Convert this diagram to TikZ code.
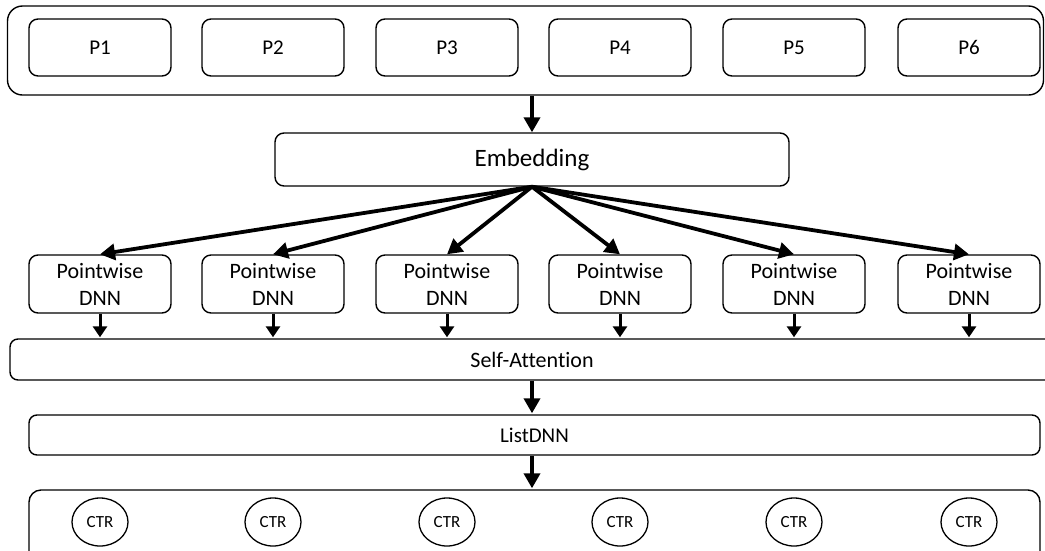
\documentclass[tikz,border=0pt]{standalone}
\usepackage{fontspec}
\setmainfont[Ligatures=NoCommon]{Carlito}
\usetikzlibrary{arrows.meta,shapes.geometric}
\begin{document}
\begin{tikzpicture}[x=1pt,y=-1pt,
  box/.style={draw=black,line width=1.4pt,rounded corners=9pt,inner sep=0pt,anchor=center},
  pbox/.style={box,minimum width=142pt,minimum height=57pt,font=\fontsize{21}{25}\selectfont},
  pwbox/.style={box,minimum width=142pt,minimum height=58pt,align=center,font=\fontsize{22}{27}\selectfont},
  ctr/.style={draw=black,line width=1.3pt,ellipse,minimum width=56pt,minimum height=48pt,inner sep=0pt,font=\fontsize{17}{20}\selectfont},
  bigarrow/.style={line width=3.8pt,-{Triangle[length=15pt,width=16pt]}},
  smallarrow/.style={line width=3pt,-{Triangle[length=11pt,width=14pt]}}
]
\useasboundingbox (0,0) rectangle (1045,550);
\fill[white] (0,0) rectangle (1045,550);
% top container
\node[box,rounded corners=15pt,minimum width=1036pt,minimum height=89pt] (top) at (525.5,50.5) {};
\foreach \i/\x in {1/100,2/273,3/447,4/620,5/794,6/969}{
  \node[pbox] (p\i) at (\x,47.5) {P\i};
  \node[pwbox] (pw\i) at (\x,284) {Pointwise\\DNN};
  \node[ctr] (c\i) at (\x,522) {CTR};
}
\node[box,minimum width=514pt,minimum height=53pt,font=\fontsize{25}{30}\selectfont] (emb) at (532,159.5) {Embedding};
\node[box,rounded corners=8pt,minimum width=1044pt,minimum height=41pt,font=\fontsize{22}{26}\selectfont] (sa) at (532,359.5) {Self-Attention};
\node[box,rounded corners=8pt,minimum width=1011pt,minimum height=40pt,font=\fontsize{21}{25}\selectfont] (ld) at (534.5,435) {ListDNN};
\node[box,rounded corners=12pt,minimum width=1011pt,minimum height=80pt] (bot) at (534.5,530) {};
% arrows
\draw[bigarrow] (emb.north |- top.south) -- (emb.north);
\foreach \i in {1,...,6}{
  \draw[bigarrow] (emb.south) -- (pw\i.north);
  \draw[smallarrow] (pw\i.south) -- ([yshift=1pt]pw\i.south |- sa.north);
}
\draw[bigarrow] (sa.south -| emb.south) -- ([yshift=1pt]ld.north -| emb.south);
\draw[bigarrow] (ld.south -| emb.south) -- ([yshift=1pt]bot.north -| emb.south);
\end{tikzpicture}
\end{document}
